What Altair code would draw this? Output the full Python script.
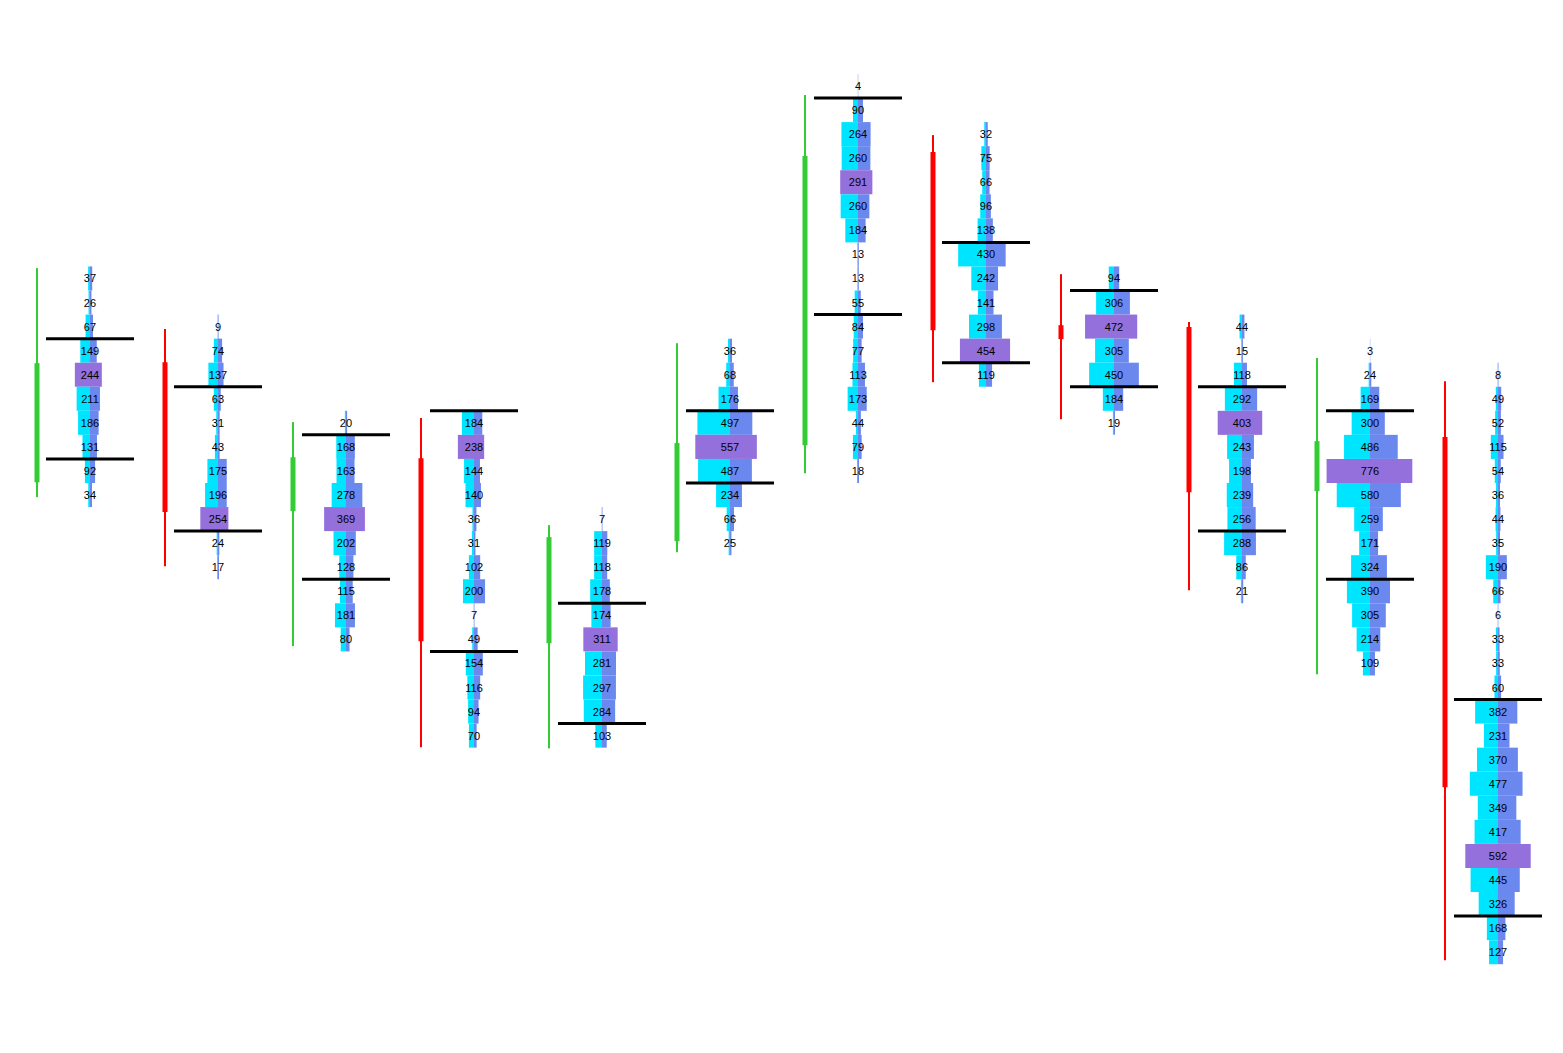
import altair as alt
import pandas as pd

# price level of the first (highest) row of every column's volume profile
top_price = [28, 26, 22, 22, 18, 25, 36, 34, 28, 26, 25, 24]

# total volume per price row (top to bottom)
totals = [
    [37, 26, 67, 149, 244, 211, 186, 131, 92, 34],
    [9, 74, 137, 63, 31, 43, 175, 196, 254, 24, 17],
    [20, 168, 163, 278, 369, 202, 128, 115, 181, 80],
    [184, 238, 144, 140, 36, 31, 102, 200, 7, 49, 154, 116, 94, 70],
    [7, 119, 118, 178, 174, 311, 281, 297, 284, 103],
    [36, 68, 176, 497, 557, 487, 234, 66, 25],
    [4, 90, 264, 260, 291, 260, 184, 13, 13, 55, 84, 77, 113, 173, 44, 79, 18],
    [32, 75, 66, 96, 138, 430, 242, 141, 298, 454, 119],
    [94, 306, 472, 305, 450, 184, 19],
    [44, 15, 118, 292, 403, 243, 198, 239, 256, 288, 86, 21],
    [3, 24, 169, 300, 486, 776, 580, 259, 171, 324, 390, 305, 214, 109],
    [8, 49, 52, 115, 54, 36, 44, 35, 190, 66, 6, 33, 33, 60, 382, 231, 370,
     477, 349, 417, 592, 445, 326, 168, 127],
]

# left-side (cyan) part of each row's volume
left_vols = [
    [17, 13, 40, 88, 137, 121, 108, 68, 46, 16],
    [4, 37, 87, 38, 16, 28, 96, 117, 160, 12, 8],
    [10, 88, 86, 130, 198, 113, 61, 54, 100, 48],
    [109, 146, 90, 77, 14, 18, 46, 100, 3, 16, 74, 60, 53, 46],
    [3, 71, 71, 107, 96, 169, 154, 171, 165, 60],
    [18, 34, 104, 295, 314, 289, 126, 30, 12],
    [2, 45, 150, 148, 161, 157, 115, 6, 6, 30, 39, 44, 50, 94, 18, 46, 9],
    [16, 42, 34, 52, 76, 252, 133, 73, 154, 236, 64],
    [47, 162, 262, 171, 225, 101, 10],
    [22, 7, 73, 155, 220, 135, 117, 138, 132, 162, 52, 10],
    [1, 12, 85, 166, 235, 393, 301, 143, 98, 171, 209, 162, 121, 64],
    [4, 20, 26, 65, 29, 18, 22, 17, 110, 43, 3, 19, 17, 32, 207, 127, 190,
     255, 183, 212, 296, 248, 175, 101, 81],
]

# value area: highest and lowest price row inside it
va_high = [25, 23, 21, 22, 14, 22, 35, 29, 27, 23, 22, 10]
va_low = [21, 18, 16, 13, 10, 20, 27, 25, 24, 18, 16, 2]

# candles (same price units as the rows)
opens = [19.53, 24.52, 18.33, 20.53, 12.84, 17.08, 21.07, 33.26, 26.06, 25.98, 19.16, 21.41]
highs = [28.43, 25.90, 22.03, 22.20, 17.75, 25.31, 35.63, 33.96, 28.18, 26.19, 24.69, 23.73]
lows = [18.91, 16.04, 12.72, 8.52, 8.47, 16.62, 19.91, 23.69, 22.15, 15.04, 11.55, -0.34]
closes = [24.48, 18.29, 20.57, 12.92, 17.25, 21.16, 33.09, 25.85, 25.48, 19.12, 21.24, 6.85]

CYAN = "#00E5FF"
BLUE = "#6A88EE"
POC = "#9370DB"
GREEN = "#33CC33"
RED = "#FF0000"

VOL_K = 0.1105 / 128.0      # column units per unit of volume
CANDLE_OFF = 53.0 / 128.0   # candle offset to the left of the profile
VA_HALF = 44.0 / 128.0      # half length of value-area lines

rows = []
for i, (tp, tot, lv) in enumerate(zip(top_price, totals, left_vols)):
    poc_idx = tot.index(max(tot))
    for j, (t, l) in enumerate(zip(tot, lv)):
        p = tp - j
        r = t - l
        is_poc = j == poc_idx
        rows.append(dict(col=i, price=p, x0=i - l * VOL_K, x1=i, y0=p - 0.5, y1=p + 0.5,
                         fill=POC if is_poc else CYAN, label=str(t)))
        rows.append(dict(col=i, price=p, x0=i, x1=i + r * VOL_K, y0=p - 0.5, y1=p + 0.5,
                         fill=POC if is_poc else BLUE, label=""))
bars = pd.DataFrame(rows)
labels = bars[bars["label"] != ""].copy()
labels["xc"] = labels["col"]

va_rows = []
for i in range(len(va_high)):
    va_rows.append(dict(xa=i - VA_HALF, xb=i + VA_HALF, y=va_high[i] + 0.5))
    va_rows.append(dict(xa=i - VA_HALF, xb=i + VA_HALF, y=va_low[i] - 0.5))
va = pd.DataFrame(va_rows)

candles = pd.DataFrame(dict(
    x=[i - CANDLE_OFF for i in range(len(opens))],
    o=opens, h=highs, l=lows, c=closes,
    color=[GREEN if c > o else RED for o, c in zip(opens, closes)],
))

W, H = 1540, 1030
xs = alt.Scale(domain=[-0.6406, -0.6406 + W / 128.0], nice=False, zero=False)
ys = alt.Scale(domain=[39.242 - H / 24.06, 39.242], nice=False, zero=False)

wick = alt.Chart(candles).mark_rule(strokeWidth=2).encode(
    x=alt.X("x:Q", scale=xs, axis=None),
    y=alt.Y("l:Q", scale=ys, axis=None),
    y2="h:Q",
    color=alt.Color("color:N", scale=None),
)
body = alt.Chart(candles).mark_rule(strokeWidth=5).encode(
    x=alt.X("x:Q", scale=xs, axis=None),
    y=alt.Y("o:Q", scale=ys, axis=None),
    y2="c:Q",
    color=alt.Color("color:N", scale=None),
)
rects = alt.Chart(bars).mark_rect().encode(
    x=alt.X("x0:Q", scale=xs, axis=None),
    x2="x1:Q",
    y=alt.Y("y0:Q", scale=ys, axis=None),
    y2="y1:Q",
    color=alt.Color("fill:N", scale=None),
)
valines = alt.Chart(va).mark_rule(strokeWidth=3, color="black").encode(
    x=alt.X("xa:Q", scale=xs, axis=None),
    x2="xb:Q",
    y=alt.Y("y:Q", scale=ys, axis=None),
)
texts = alt.Chart(labels).mark_text(
    font="Liberation Sans", fontSize=11, color="black", baseline="middle", align="center", dy=1
).encode(
    x=alt.X("xc:Q", scale=xs, axis=None),
    y=alt.Y("price:Q", scale=ys, axis=None),
    text="label:N",
)

chart = alt.layer(wick, body, rects, valines, texts).properties(
    width=W, height=H, autosize=alt.AutoSizeParams(type="none"), padding=0
).configure_view(stroke=None)

chart.save("out.html", embed_options={"renderer": "svg", "actions": False})
